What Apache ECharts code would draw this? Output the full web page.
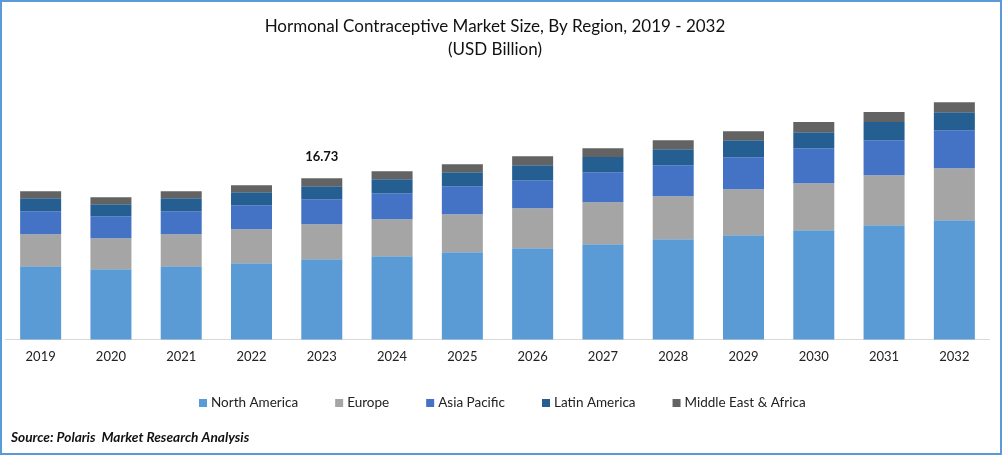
<!DOCTYPE html>
<html>
<head>
<meta charset="utf-8">
<style>html,body{margin:0;padding:0;background:#fff}#chart{width:1002px;height:456px}</style>
<script src="https://cdn.jsdelivr.net/npm/echarts@6/dist/echarts.min.js"></script>
</head>
<body>
<div id="chart"></div>
<script>
var years = ['2019','2020','2021','2022','2023','2024','2025','2026','2027','2028','2029','2030','2031','2032'];
var northAmerica = [7.60,7.29,7.60,7.91,8.33,8.64,9.06,9.47,9.89,10.40,10.82,11.34,11.86,12.38];
var europe = [3.32,3.22,3.32,3.53,3.63,3.84,3.94,4.15,4.36,4.46,4.77,4.88,5.19,5.39];
var asiaPacific = [2.39,2.28,2.39,2.49,2.59,2.70,2.90,2.90,3.11,3.22,3.32,3.63,3.63,3.94];
var latinAmerica = [1.35,1.24,1.35,1.35,1.35,1.45,1.45,1.56,1.56,1.66,1.76,1.66,1.87,1.87];
var middleEastAfrica = [0.73,0.73,0.73,0.73,0.83,0.83,0.83,0.93,0.93,0.93,0.93,1.04,1.04,1.04];
var regions = ['North America','Europe','Asia Pacific','Latin America','Middle East & Africa'];
var regionValues = [northAmerica, europe, asiaPacific, latinAmerica, middleEastAfrica];
var colors = ['#5B9BD5','#A5A5A5','#4472C4','#255E91','#636363'];
var labelYear = '2023';
var labelText = '16.73';

var font = 'Lato, "Open Sans", sans-serif';
var myChart = echarts.init(document.getElementById('chart'), null, {renderer: 'canvas'});

var series = regions.map(function (name, i) {
    var s = {
        name: name,
        type: 'bar',
        stack: 'total',
        barWidth: 41,
        data: regionValues[i],
        itemStyle: {color: colors[i]}
    };
    // only the 2023 total is labelled, on top of the last stack
    if (i === regions.length - 1) {
        s.data = regionValues[i].map(function (v, k) {
            if (years[k] !== labelYear) return v;
            return {
                value: v,
                label: {
                    show: true,
                    position: 'top',
                    distance: 15,
                    formatter: labelText,
                    fontFamily: font,
                    fontSize: 13,
                    fontWeight: 'bold',
                    color: '#111'
                }
            };
        });
    }
    return s;
});

var option = {
    animation: false,
    backgroundColor: '#fff',
    color: colors,
    title: [{
        text: 'Hormonal Contraceptive Market Size, By Region, 2019 - 2032\n(USD Billion)',
        left: 490,
        top: 10,
        textAlign: 'center',
        textStyle: {fontFamily: font, fontSize: 17, fontWeight: 'normal', color: '#111', lineHeight: 23}
    }, {
        text: 'Source: Polaris  Market Research Analysis',
        left: 6,
        top: 426,
        textStyle: {fontFamily: font, fontSize: 13.7, fontWeight: 'bold', fontStyle: 'italic', color: '#111'}
    }],
    legend: {
        data: regions,
        left: 194,
        top: 391,
        icon: 'rect',
        itemWidth: 8,
        itemHeight: 8,
        itemGap: 37,
        textStyle: {fontFamily: font, fontSize: 13.5, color: '#222', padding: [0, 0, 0, -1]}
    },
    grid: {left: 5.5, right: 12.5, top: 98.5, height: 241},
    xAxis: {
        type: 'category',
        data: years,
        axisLine: {lineStyle: {color: '#D9D9D9', width: 1}},
        axisTick: {show: false},
        axisLabel: {fontFamily: font, fontSize: 13, color: '#222', margin: 11}
    },
    yAxis: {
        type: 'value',
        min: 0,
        max: 25,
        show: false,
        splitLine: {show: false}
    },
    graphic: [{
        type: 'rect',
        shape: {x: 1, y: 1, width: 1000, height: 453},
        style: {fill: 'none', stroke: '#5B9BD5', lineWidth: 2},
        silent: true
    }],
    series: series
};

myChart.setOption(option);
</script>
</body>
</html>
